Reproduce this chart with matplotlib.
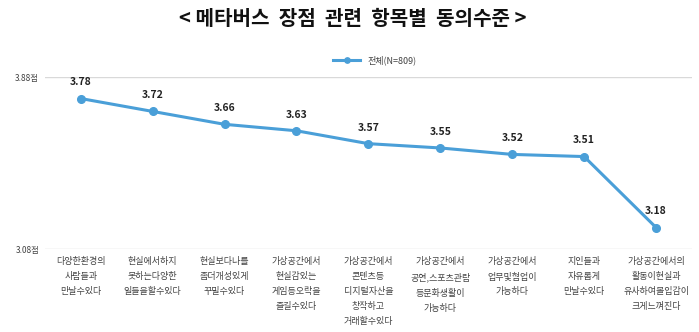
import matplotlib.pyplot as plt

plt.rcParams['font.family'] = ['Noto Sans CJK KR', 'DejaVu Sans']

categories = [
    "다양한환경의\n사람들과\n만날수있다",
    "현실에서하지\n못하는다양한\n일들을할수있다",
    "현실보다나를\n좀더개성있게\n꾸밀수있다",
    "가상공간에서\n현실감있는\n게임등오락을\n즐길수있다",
    "가상공간에서\n콘텐츠등\n디지털자산을\n창작하고\n거래할수있다",
    "가상공간에서\n공연,스포츠관람\n등문화생활이\n가능하다",
    "가상공간에서\n업무및협업이\n가능하다",
    "지인들과\n자유롭게\n만날수있다",
    "가상공간에서의\n활동이현실과\n유사하여몰입감이\n크게느껴진다",
]
scores = [3.78, 3.72, 3.66, 3.63, 3.57, 3.55, 3.52, 3.51, 3.18]
y_ticks = [3.08, 3.88]
y_tick_labels = ["3.08점", "3.88점"]

line_color = '#4a9fd8'

fig = plt.figure(figsize=(6.99, 3.32), dpi=100)
ax = fig.add_axes([0.064, 0.25, 0.926, 0.518])

x = list(range(len(categories)))
ax.plot(x, scores, color=line_color, linewidth=2.2, marker='o', markersize=5.5,
        label='전체(N=809)')
for xi, v in zip(x, scores):
    ax.annotate(f"{v:.2f}", (xi, v), xytext=(0, 8), textcoords='offset points',
                ha='center', va='bottom', fontsize=7.5, fontweight='semibold', color='#222222')

ax.set_xlim(-0.5, len(categories) - 0.5)
ax.set_ylim(3.08, 3.88)
ax.set_yticks(y_ticks)
ax.set_yticklabels(y_tick_labels, fontsize=6, color='#444444')
ax.set_xticks(x)
ax.set_xticklabels(categories, fontsize=6.5, color='#444444', linespacing=1.85, va='top')
ax.tick_params(axis='both', length=0, pad=4)
ax.tick_params(axis='x', pad=6)
ax.grid(axis='y', color='#d9d9d9', linewidth=1)
for s in ax.spines.values():
    s.set_visible(False)

ax.legend(loc='lower center', bbox_to_anchor=(0.51, 1.02), frameon=False,
          fontsize=6.5, handlelength=3, markerscale=0.7, labelcolor='#444444')

fig.text(0.505, 0.945, "< 메타버스  장점  관련  항목별  동의수준 >", ha='center', va='center',
         fontsize=14.5, fontweight='bold', color='#111111')

fig.savefig('out.png', dpi=100, facecolor='white')
